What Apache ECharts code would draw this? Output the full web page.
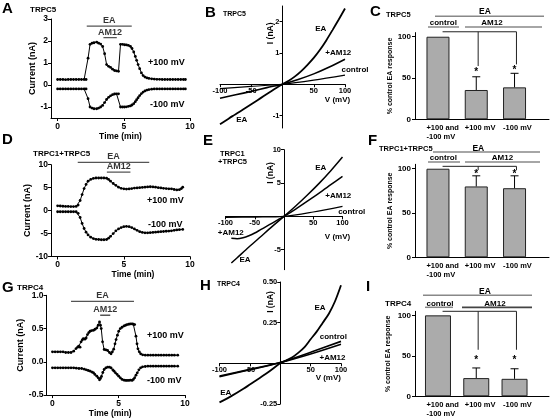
<!DOCTYPE html>
<html><head><meta charset="utf-8">
<script src="https://cdn.jsdelivr.net/npm/echarts@6/dist/echarts.min.js"></script>
<style>html,body{margin:0;padding:0;background:#fff;overflow:hidden}#chart{width:551px;height:419px}</style>
</head><body><div id="chart"></div>
<script>
// ---------------- DATA ----------------
// Panel A (TRPC5) time course: [time (min), current (nA)]
const aPlus100 = [[0,0.25],[0.2,0.25],[0.4,0.25],[0.6,0.24],[0.8,0.25],[1.0,0.25],[1.2,0.25],[1.4,0.25],[1.6,0.25],[1.8,0.25],[2.0,0.25],[2.15,0.25],[2.3,1.22],[2.45,1.85],[2.6,1.9],[2.75,1.92],[2.95,1.95],[3.1,1.9],[3.25,1.86],[3.4,1.75],[3.55,1.42],[3.7,0.93],[3.85,0.85],[4.0,0.8],[4.15,0.72],[4.3,0.66],[4.45,0.64],[4.6,0.62],[4.75,1.85],[4.9,1.85],[5.05,1.83],[5.2,1.82],[5.35,1.8],[5.5,1.76],[5.62,1.66],[5.75,1.5],[5.87,1.3],[5.97,1.12],[6.08,0.93],[6.2,0.74],[6.33,0.55],[6.46,0.43],[6.6,0.36],[6.75,0.32],[6.9,0.3],[7.1,0.28],[7.3,0.27],[7.5,0.26],[7.7,0.26],[7.9,0.25],[8.1,0.25],[8.3,0.25],[8.5,0.25],[8.7,0.25],[8.9,0.25],[9.1,0.25],[9.3,0.25],[9.5,0.25],[9.65,0.25]];
const aMinus100 = [[0,-0.18],[0.2,-0.18],[0.4,-0.18],[0.6,-0.18],[0.8,-0.18],[1.0,-0.18],[1.2,-0.18],[1.4,-0.18],[1.6,-0.18],[1.8,-0.18],[2.0,-0.18],[2.15,-0.18],[2.3,-0.62],[2.45,-1.0],[2.6,-1.05],[2.75,-1.08],[2.95,-1.08],[3.1,-1.05],[3.25,-1.0],[3.4,-0.93],[3.55,-0.8],[3.7,-0.66],[3.85,-0.56],[4.0,-0.49],[4.15,-0.44],[4.3,-0.41],[4.45,-0.4],[4.6,-0.4],[4.75,-1.0],[4.9,-1.0],[5.05,-1.0],[5.2,-0.99],[5.35,-0.97],[5.5,-0.95],[5.62,-0.91],[5.75,-0.85],[5.87,-0.76],[5.97,-0.67],[6.08,-0.58],[6.2,-0.48],[6.33,-0.39],[6.46,-0.32],[6.6,-0.27],[6.75,-0.23],[6.9,-0.21],[7.1,-0.19],[7.3,-0.18],[7.5,-0.18],[7.7,-0.18],[7.9,-0.18],[8.1,-0.18],[8.3,-0.18],[8.5,-0.18],[8.7,-0.18],[8.9,-0.18],[9.1,-0.18],[9.3,-0.18],[9.5,-0.18],[9.65,-0.18]];
const aEA = [2.2, 5.6];
const aAM12 = [3.46, 4.47];

// Panel D (TRPC1+TRPC5) time course
const dPlus100 = [[0,1.05],[0.2,1.0],[0.4,0.95],[0.6,0.9],[0.8,0.9],[1.0,0.88],[1.2,0.88],[1.4,0.9],[1.55,1.2],[1.7,2.2],[1.85,3.5],[2.0,4.8],[2.15,5.7],[2.3,6.4],[2.5,6.8],[2.7,7.0],[2.9,7.1],[3.1,7.1],[3.3,7.1],[3.5,7.1],[3.7,7.05],[3.85,6.8],[4.0,6.4],[4.2,5.9],[4.4,5.5],[4.6,5.1],[4.8,4.85],[5.0,4.75],[5.2,4.7],[5.4,4.72],[5.6,4.8],[5.8,4.9],[6.0,4.95],[6.2,5.0],[6.4,5.05],[6.6,5.1],[6.8,5.15],[7.0,5.2],[7.2,5.15],[7.4,5.1],[7.6,5.0],[7.8,4.95],[8.0,4.85],[8.2,4.8],[8.4,4.75],[8.6,4.75],[8.8,4.6],[9.0,4.5],[9.2,4.55],[9.35,4.8],[9.45,5.1]];
const dMinus100 = [[0,-0.25],[0.2,-0.25],[0.4,-0.25],[0.6,-0.25],[0.8,-0.25],[1.0,-0.25],[1.2,-0.25],[1.4,-0.25],[1.55,-0.6],[1.7,-1.5],[1.85,-2.8],[2.0,-3.9],[2.15,-4.7],[2.3,-5.3],[2.5,-5.8],[2.7,-6.1],[2.9,-6.25],[3.1,-6.3],[3.3,-6.35],[3.5,-6.35],[3.7,-6.3],[3.85,-6.0],[4.0,-5.6],[4.2,-5.0],[4.4,-4.4],[4.6,-4.0],[4.8,-3.7],[5.0,-3.5],[5.2,-3.45],[5.4,-3.5],[5.6,-3.7],[5.8,-4.0],[6.0,-4.3],[6.2,-4.6],[6.4,-4.75],[6.6,-4.85],[6.8,-4.85],[7.0,-4.8],[7.2,-4.75],[7.4,-4.7],[7.6,-4.65],[7.8,-4.6],[8.0,-4.55],[8.2,-4.5],[8.4,-4.45],[8.6,-4.4],[8.8,-4.3],[9.0,-4.2],[9.2,-4.15],[9.45,-4.1]];
const dEA = [1.52, 6.92];
const dAM12 = [3.72, 5.5];

// Panel G (TRPC4) time course
const gPlus100 = [[0,0.15],[0.2,0.15],[0.4,0.15],[0.6,0.15],[0.8,0.15],[1.0,0.14],[1.2,0.14],[1.4,0.14],[1.6,0.16],[1.78,0.2],[1.9,0.22],[1.98,0.235],[2.08,0.22],[2.16,0.3],[2.25,0.33],[2.33,0.35],[2.45,0.34],[2.54,0.36],[2.64,0.41],[2.74,0.44],[2.84,0.46],[2.96,0.47],[3.1,0.475],[3.22,0.49],[3.35,0.51],[3.45,0.55],[3.55,0.6],[3.62,0.55],[3.68,0.5],[3.78,0.3],[3.9,0.185],[4.03,0.18],[4.16,0.17],[4.3,0.14],[4.42,0.12],[4.52,0.15],[4.62,0.19],[4.72,0.27],[4.8,0.335],[4.9,0.4],[5.0,0.46],[5.12,0.5],[5.25,0.52],[5.4,0.54],[5.52,0.55],[5.63,0.56],[5.76,0.565],[5.88,0.57],[6.01,0.57],[6.1,0.565],[6.2,0.56],[6.3,0.385],[6.38,0.27],[6.45,0.195],[6.55,0.15],[6.65,0.12],[6.8,0.105],[7.0,0.1],[7.2,0.1],[7.4,0.1],[7.6,0.1],[7.8,0.1],[8.0,0.1],[8.2,0.1],[8.4,0.1],[8.6,0.1],[8.8,0.1],[9.0,0.1],[9.2,0.1],[9.45,0.1]];
const gMinus100 = [[0,-0.09],[0.2,-0.09],[0.4,-0.09],[0.6,-0.09],[0.8,-0.09],[1.0,-0.09],[1.2,-0.09],[1.4,-0.09],[1.6,-0.09],[1.8,-0.095],[2.0,-0.1],[2.2,-0.1],[2.4,-0.11],[2.55,-0.12],[2.7,-0.13],[2.85,-0.14],[3.0,-0.155],[3.1,-0.165],[3.2,-0.19],[3.35,-0.215],[3.45,-0.24],[3.55,-0.27],[3.62,-0.25],[3.7,-0.22],[3.8,-0.16],[3.9,-0.115],[4.03,-0.09],[4.16,-0.08],[4.3,-0.08],[4.42,-0.09],[4.55,-0.12],[4.65,-0.14],[4.75,-0.165],[4.88,-0.19],[5.0,-0.215],[5.12,-0.24],[5.25,-0.265],[5.4,-0.275],[5.52,-0.28],[5.63,-0.28],[5.76,-0.28],[5.88,-0.275],[6.01,-0.28],[6.1,-0.265],[6.2,-0.24],[6.3,-0.2],[6.4,-0.165],[6.52,-0.12],[6.65,-0.09],[6.8,-0.075],[7.0,-0.07],[7.2,-0.065],[7.4,-0.065],[7.6,-0.065],[7.8,-0.065],[8.0,-0.065],[8.2,-0.065],[8.4,-0.065],[8.6,-0.065],[8.8,-0.065],[9.0,-0.065],[9.2,-0.065],[9.45,-0.065]];
const gEA = [1.4, 6.15];
const gAM12 = [3.6, 4.36];

// I-V relationships: [V (mV), I (nA)]
const bEA = [[-100,-1.28],[-90,-1.15],[-80,-1.02],[-70,-0.9],[-60,-0.77],[-50,-0.64],[-40,-0.51],[-30,-0.38],[-20,-0.25],[-10,-0.12],[0,0],[10,0.11],[20,0.25],[30,0.42],[40,0.62],[50,0.84],[60,1.1],[70,1.4],[80,1.73],[90,2.07],[100,2.42]];
const bAM12 = [[-100,-0.45],[-75,-0.34],[-50,-0.23],[-25,-0.11],[0,0],[25,0.15],[50,0.33],[75,0.55],[100,0.8]];
const bControl = [[-100,-0.14],[-50,-0.07],[0,0],[50,0.13],[100,0.29]];

const eEA = [[-90,-7.0],[-80,-6.2],[-60,-4.6],[-40,-3.05],[-20,-1.5],[0,0],[20,1.55],[40,3.2],[60,4.95],[80,6.85],[100,8.9]];
const eAM12 = [[-90,-3.3],[-80,-3.35],[-70,-3.2],[-60,-2.9],[-50,-2.5],[-40,-2.0],[-30,-1.5],[-20,-1.0],[-10,-0.5],[0,0],[20,1.1],[40,2.3],[60,3.5],[80,4.75],[100,6.0]];
const eControl = [[-100,-0.15],[-50,-0.1],[0,0],[50,0.65],[100,1.5]];

const hEA = [[-100,-0.24],[-80,-0.2],[-60,-0.155],[-40,-0.105],[-20,-0.055],[0,0],[10,0.018],[20,0.038],[30,0.066],[40,0.1],[50,0.148],[60,0.195],[70,0.25],[80,0.305],[90,0.38],[100,0.48]];
const hControl = [[-100,-0.082],[-50,-0.04],[0,0.005],[50,0.068],[100,0.135]];
const hAM12 = [[-100,-0.078],[-50,-0.037],[0,0.005],[50,0.058],[100,0.118]];

// Bar summaries (% control EA response)
const barCategories = ['+100 and\n-100 mV', '+100 mV', '-100 mV'];
const cValues = [100, 35.5, 38.7];
const cErrors = [0, 16, 17];
const fValues = [100, 80, 78];
const fErrors = [0, 12, 14];
const iValues = [100, 22.5, 21.6];
const iErrors = [0, 12.5, 12.4];

// Tick labels
const timeTicks = [0, 5, 10];
const aYTicks = [-1, 0, 1, 2, 3];
const dYTicks = [-10, -5, 0, 5, 10];
const gYTicks = [-0.5, 0, 0.5, 1.0];
const ivXTicks = [-100, -50, 50, 100];
const bYTicks = [-1, 1, 2];
const eYTicks = [-5, 5, 10];
const hYTicks = [-0.25, 0.25, 0.5];
const barYTicks = [0, 50, 100];

// ---------------- BUILD ----------------
const FONT = '"Liberation Sans", Arial, Helvetica, sans-serif';
const BLACK = '#000';
function lbl(size, extra) { return Object.assign({color:BLACK, fontSize:size, fontWeight:'bold', fontFamily:FONT}, extra || {}); }
const grids = [], xAxes = [], yAxes = [], series = [], graphics = [];
function addGrid(l, t, w, h) { grids.push({left:l, top:t, width:w, height:h}); return grids.length - 1; }

function timePanel(c) {
  const gi = addGrid(c.left, c.top, c.width, c.height);
  xAxes.push({type:'value', gridIndex:gi, min:c.xmin, max:10,
    axisLine:{onZero:false, lineStyle:{color:BLACK, width:1}},
    axisTick:{customValues:timeTicks, length:3, lineStyle:{color:BLACK}},
    axisLabel:lbl(8.5, {customValues:timeTicks, margin:4}),
    splitLine:{show:false},
    name:'Time (min)', nameLocation:'middle', nameGap:c.xNameGap,
    nameTextStyle:lbl(8.5, {padding:c.xNamePad})});
  yAxes.push({type:'value', gridIndex:gi, min:c.ymin, max:c.ymax,
    axisLine:{onZero:false, lineStyle:{color:BLACK, width:1}},
    axisTick:{customValues:c.yTicks, length:3, lineStyle:{color:BLACK}},
    axisLabel:lbl(8.5, {customValues:c.yTicks, margin:3, formatter:c.yFmt}),
    splitLine:{show:false},
    name:'Current (nA)', nameLocation:'middle', nameGap:c.yNameGap,
    nameTextStyle:lbl(9)});
  [c.plus, c.minus].forEach(d => series.push({type:'line', xAxisIndex:gi, yAxisIndex:gi, data:d,
    symbol:'circle', symbolSize:2.8, showSymbol:true, showAllSymbol:true,
    itemStyle:{color:BLACK}, lineStyle:{color:BLACK, width:1}, silent:true}));
  [[c.ea, c.eaY, 'EA'], [c.am, c.amY, 'AM12']].forEach(([r, y, name]) => {
    series.push({type:'line', xAxisIndex:gi, yAxisIndex:gi, clip:false, data:[[r[0], y], [r[1], y]],
      symbol:'none', lineStyle:{color:'#555', width:1.3}, silent:true});
    series.push({type:'scatter', xAxisIndex:gi, yAxisIndex:gi, clip:false, data:[[(r[0] + r[1]) / 2, y]],
      symbolSize:0, silent:true,
      label:lbl(9, {show:true, position:'top', distance:1, formatter:name})});
  });
}

function ivPanel(c) {
  const gi = addGrid(c.left, c.top, c.width, c.height);
  // axes cross at the origin (V = 0, I = 0)
  const zeroY = c.height * c.ymax / (c.ymax - c.ymin);   // from top of grid
  const zeroX = c.width * 100 / 200;                     // from left of grid
  xAxes.push({type:'value', gridIndex:gi, min:-100, max:100, position:'bottom',
    offset:-(c.height - zeroY),
    axisLine:{onZero:false, lineStyle:{color:BLACK, width:1}},
    axisTick:{customValues:ivXTicks, length:3, lineStyle:{color:BLACK}},
    axisLabel:lbl(7.5, {customValues:ivXTicks, margin:3}),
    splitLine:{show:false}});
  yAxes.push({type:'value', gridIndex:gi, min:c.ymin, max:c.ymax, position:'left',
    offset:-zeroX,
    axisLine:{onZero:false, lineStyle:{color:BLACK, width:1}},
    axisTick:{customValues:c.yTicks, length:3, lineStyle:{color:BLACK}},
    axisLabel:lbl(7.5, {customValues:c.yTicks, margin:3, formatter:c.yFmt}),
    splitLine:{show:false}});
  c.curves.forEach(cv => series.push({type:'line', xAxisIndex:gi, yAxisIndex:gi, data:cv[0],
    smooth:0.3, symbol:'none', lineStyle:{color:BLACK, width:cv[1]}, silent:true}));
}

function barPanel(c) {
  const gi = addGrid(415, c.top, 134, c.height);
  const xs = c.values.map((v, i) => i + 0.6);
  xAxes.push({type:'value', gridIndex:gi, min:0, max:3.5,
    axisLine:{onZero:false, lineStyle:{color:BLACK, width:1}},
    axisTick:{show:false},
    axisLabel:lbl(7.5, {customValues:xs.map(x => x - 0.3), align:'left', lineHeight:9, margin:4,
      formatter:v => barCategories[Math.round(v - 0.3)]}),
    splitLine:{show:false}});
  yAxes.push({type:'value', gridIndex:gi, min:0, max:105,
    axisLine:{onZero:false, lineStyle:{color:BLACK, width:1}},
    axisTick:{customValues:barYTicks, length:3, lineStyle:{color:BLACK}},
    axisLabel:lbl(8, {customValues:barYTicks, margin:4}),
    splitLine:{show:false},
    name:'% control EA response', nameLocation:'middle', nameGap:c.nameGap,
    nameTextStyle:lbl(7)});
  series.push({type:'bar', xAxisIndex:gi, yAxisIndex:gi, data:xs.map((x, i) => [x, c.values[i]]),
    barWidth:c.barW, silent:true,
    itemStyle:{color:'#ababab', borderColor:'#222', borderWidth:1}});
  series.push({type:'custom', xAxisIndex:gi, yAxisIndex:gi, silent:true, z:5,
    data:xs.map((x, i) => [x, c.values[i], c.errors[i], c.stars[i] == null ? NaN : c.stars[i]]),
    renderItem:(params, api) => {
      const x = api.value(0), v = api.value(1), e = api.value(2), s = api.value(3);
      const ch = [];
      if (e > 0) {
        const p0 = api.coord([x, v]), p1 = api.coord([x, v + e]);
        ch.push({type:'line', shape:{x1:p0[0], y1:p0[1], x2:p1[0], y2:p1[1]}, style:{stroke:BLACK, lineWidth:1}});
        ch.push({type:'line', shape:{x1:p1[0] - 4, y1:p1[1], x2:p1[0] + 4, y2:p1[1]}, style:{stroke:BLACK, lineWidth:1}});
      }
      if (!isNaN(s)) {
        const ps = api.coord([x, s]);
        ch.push({type:'text', style:{text:'*', x:ps[0], y:ps[1] + 2, align:'center', verticalAlign:'middle',
          font:'bold 10px ' + FONT, fill:BLACK}});
      }
      return {type:'group', children:ch};
    }});
  series.push({type:'custom', xAxisIndex:gi, yAxisIndex:gi, silent:true, z:5,
    data:[[xs[0], c.bracketY]],
    renderItem:(params, api) => {
      const a = api.coord([xs[0] + 0.12, c.bracketY]), b = api.coord([xs[2] + 0.05, c.bracketY]);
      const ch = [{type:'line', shape:{x1:a[0], y1:a[1], x2:b[0], y2:b[1]}, style:{stroke:'#222', lineWidth:1}}];
      [1, 2].forEach(i => {
        const t = api.coord([xs[i] + 0.05, c.bracketY]), u = api.coord([xs[i] + 0.05, c.bracketEnd[i]]);
        ch.push({type:'line', shape:{x1:t[0], y1:t[1], x2:u[0], y2:u[1]}, style:{stroke:'#222', lineWidth:1}});
      });
      return {type:'group', children:ch};
    }});
}

// time panels
timePanel({left:51, top:19, width:139, height:99, xmin:-0.5, ymin:-1.5, ymax:3, yTicks:aYTicks,
  xNameGap:14.5, xNamePad:[0,0,0,0], yNameGap:9.5, plus:aPlus100, minus:aMinus100,
  ea:aEA, eaY:2.68, am:aAM12, amY:2.15});
timePanel({left:51, top:164.7, width:139, height:91.8, xmin:-0.5, ymin:-10, ymax:10, yTicks:dYTicks,
  xNameGap:12, xNamePad:[0,0,0,25], yNameGap:10, plus:dPlus100, minus:dMinus100,
  ea:dEA, eaY:10.5, am:dAM12, amY:8.4});
timePanel({left:46.5, top:295.3, width:138.5, height:100, xmin:-0.45, ymin:-0.5, ymax:1.0, yTicks:gYTicks,
  yFmt:v => v.toFixed(1), xNameGap:13.5, xNamePad:[0,11,0,0], yNameGap:11, plus:gPlus100, minus:gMinus100,
  ea:gEA, eaY:0.91, am:gAM12, amY:0.70});

// I-V panels
ivPanel({left:220, top:6, width:125, height:122, ymin:-1.4, ymax:2.5, yTicks:bYTicks,
  curves:[[bEA,1.8],[bAM12,1.6],[bControl,1.1]]});
ivPanel({left:225.5, top:149.7, width:117, height:120, ymin:-8, ymax:10, yTicks:eYTicks,
  curves:[[eEA,1.5],[eAM12,1.5],[eControl,1.2]]});
ivPanel({left:219.5, top:282, width:121.5, height:122, ymin:-0.25, ymax:0.5, yTicks:hYTicks,
  yFmt:v => v.toFixed(2), curves:[[hEA,1.8],[hControl,1.6],[hAM12,1.6]]});

// bar panels
barPanel({top:32.6, height:86.7, values:cValues, errors:cErrors, stars:[null,59.6,61.7],
  bracketY:106, bracketEnd:[0,64.5,66.5], nameGap:15, barW:23});
barPanel({top:164.3, height:93, values:fValues, errors:fErrors, stars:[null,96.5,96.5],
  bracketY:102.7, bracketEnd:[0,98.5,98.5], nameGap:20, barW:23});
barPanel({top:311.3, height:85, values:iValues, errors:iErrors, stars:[null,47,47],
  bracketY:105, bracketEnd:[0,57.5,57.5], nameGap:23, barW:26});

// ---------------- TEXT / ANNOTATIONS ----------------
function txt(x, y, s, size, align, rot) {
  graphics.push({type:'text', x:x, y:y, rotation:rot || 0, z:100, silent:true,
    style:{text:s, x:0, y:0, fill:BLACK, font:'bold ' + size + 'px ' + FONT,
      align:align || 'left', verticalAlign:'middle'}});
}
function hline(x1, x2, y, color, w) {
  graphics.push({type:'line', z:100, silent:true, shape:{x1:x1, y1:y, x2:x2, y2:y}, style:{stroke:color, lineWidth:w}});
}
// panel letters
[['A',2,9],['B',205,12.5],['C',370,12],['D',2,140],['E',203,141],['F',368,141],['G',2,288],['H',200,285.5],['I',366,287]]
  .forEach(([s, x, y]) => txt(x, y, s, 15));
// titles
txt(30, 9.5, 'TRPC5', 8);
txt(223, 14.5, 'TRPC5', 7);
txt(386, 15, 'TRPC5', 7.5);
txt(33, 153.5, 'TRPC1+TRPC5', 8);
txt(220, 153.5, 'TRPC1', 7.5);
txt(218, 162, '+TRPC5', 7.5);
txt(379, 149, 'TRPC1+TRPC5', 7.5);
txt(17, 287.5, 'TRPC4', 8);
txt(217, 284.5, 'TRPC4', 7);
txt(385, 303.5, 'TRPC4', 8);
// trace labels
txt(148, 63, '+100 mV', 9); txt(150, 104.5, '-100 mV', 9);
txt(147, 200.7, '+100 mV', 9); txt(148, 224.7, '-100 mV', 9);
txt(147, 335.3, '+100 mV', 9); txt(147, 380.3, '-100 mV', 9);
// I-V labels
[[320.8,28.3,'EA'],[338.3,52.7,'+AM12'],[355,70,'control'],[241.7,120,'EA'],
 [320.8,167.3,'EA'],[338.3,195.3,'+AM12'],[351.7,212,'control'],[230.8,233,'+AM12'],[245,259.7,'EA'],
 [320,307.3,'EA'],[333.3,336.3,'control'],[332.5,357.3,'+AM12'],[225.8,393,'EA']]
  .forEach(([x, y, s]) => txt(x, y, s, 8, 'center'));
[[270.8,33.3],[271,173],[271,302]].forEach(([x, y]) => txt(x, y, 'I (nA)', 8.5, 'center', Math.PI / 2));
[[337.5,100],[337.5,236.3],[328.3,378]].forEach(([x, y]) => txt(x, y, 'V (mV)', 8, 'center'));
// bar panel headers
txt(485, 12, 'EA', 8.5, 'center'); hline(435, 544, 16.3, '#888', 1.5);
txt(443.3, 22.3, 'control', 8, 'center'); hline(428, 459, 27, '#888', 1.5);
txt(492, 22.3, 'AM12', 8, 'center'); hline(465, 542, 27, '#888', 1.5);
txt(478.3, 148.3, 'EA', 8.5, 'center'); hline(433, 540, 152, '#888', 1.5);
txt(443.3, 157.7, 'control', 8, 'center'); hline(428, 460, 162, '#888', 1.5);
txt(502.5, 157.7, 'AM12', 8, 'center'); hline(465, 540, 162, '#888', 1.5);
txt(485, 291.3, 'EA', 8.5, 'center'); hline(423, 532, 295.3, '#888', 1.5);
txt(440, 303.3, 'control', 8, 'center'); hline(425, 453, 307.3, '#888', 1.5);
txt(495, 303.3, 'AM12', 8, 'center'); hline(462, 532, 307.3, '#444', 1.8);

const chart = echarts.init(document.getElementById('chart'), null, {renderer:'canvas'});
chart.setOption({animation:false, backgroundColor:'#fff', grid:grids, xAxis:xAxes, yAxis:yAxes, series:series, graphic:graphics});
</script></body></html>
